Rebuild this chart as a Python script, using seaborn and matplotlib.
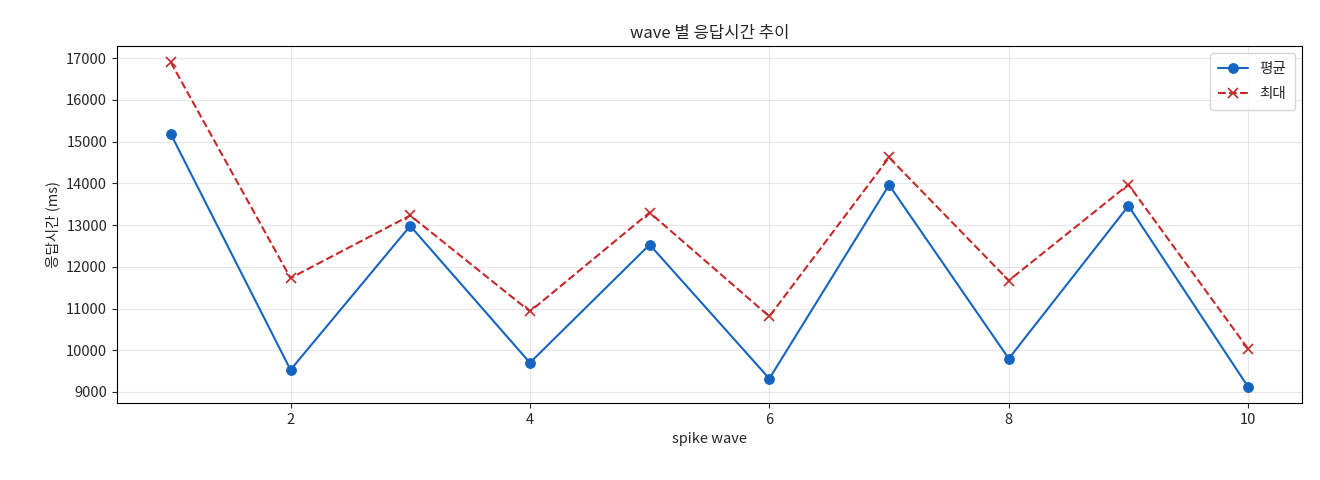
import numpy as np
import pandas as pd
import matplotlib
matplotlib.use("Agg")
import matplotlib.pyplot as plt
import seaborn as sns

waves = [1, 2, 3, 4, 5, 6, 7, 8, 9, 10]
avg_ms = [15180, 9530, 12980, 9700, 12530, 9320, 13960, 9800, 13460, 9120]
max_ms = [16900, 11730, 13230, 10930, 13300, 10810, 14620, 11670, 13970, 10030]

sns.set_style("ticks")
plt.rcParams['font.family'] = ['Noto Sans CJK KR', 'DejaVu Sans']
plt.rcParams['axes.unicode_minus'] = False

df = pd.DataFrame({"wave": waves, "평균": avg_ms, "최대": max_ms})

fig, ax = plt.subplots(figsize=(13.2, 4.8), dpi=100)
sns.lineplot(data=df, x="wave", y="평균", ax=ax, color="#1565C0",
             marker="o", markersize=7, markeredgecolor="#1565C0",
             linewidth=1.5)
sns.lineplot(data=df, x="wave", y="최대", ax=ax, color="#C62828",
             marker="x", markersize=7, markeredgecolor="#C62828",
             markeredgewidth=1.2, linewidth=1.5, linestyle="--")

lines = ax.get_lines()
ax.legend(lines[:2], ["평균", "최대"], loc="upper right", fontsize=10.5,
          labelspacing=0.75, borderpad=0.6)

ax.set_title("wave 별 응답시간 추이", fontsize=12)
ax.set_xlabel("spike wave", fontsize=10.5)
ax.set_ylabel("응답시간 (ms)", fontsize=10.5)
ax.tick_params(labelsize=10.5)
ax.grid(True, color="#b0b0b0", alpha=0.3)
for s in ax.spines.values():
    s.set_visible(True)
    s.set_color("black")

plt.subplots_adjust(left=0.0886, right=0.9864, top=0.904, bottom=0.16)
plt.savefig("out.png", dpi=100)
